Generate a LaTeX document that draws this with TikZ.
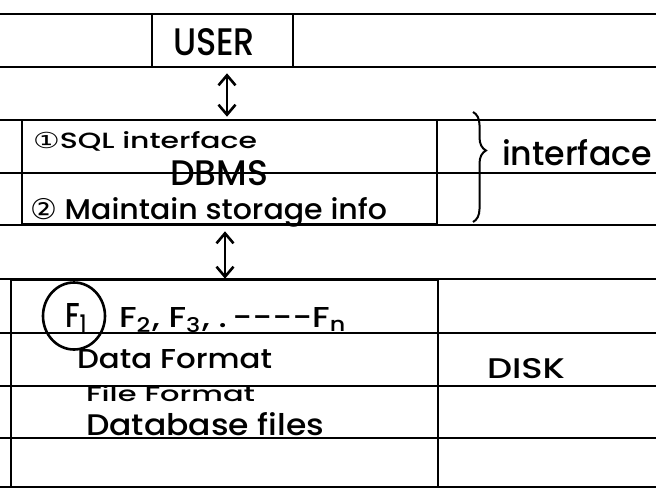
\documentclass[tikz,border=0pt]{standalone}
\usepackage{fontspec}
\setmainfont{Poppins}[UprightFont=* Medium]
\newfontfamily\dejavu{DejaVu Sans}
\usetikzlibrary{arrows.meta,shapes.geometric,decorations.pathreplacing}
\newcommand{\fitt}[3]{\resizebox{#1pt}{#2pt}{#3}}
\newcommand{\circnum}[1]{\smash{\dejavu #1}}
\begin{document}
\begin{tikzpicture}[x=1pt,y=-1pt,
  rule/.style={line width=1.2pt, black},
  penline/.style={line width=2.6pt, black},
  box/.style={draw, penline, rectangle, inner sep=0pt},
  txt/.style={anchor=base west, inner sep=0pt, outer sep=0pt},
  link/.style={penline, {Straight Barb[length=10pt,width=17pt]}-{Straight Barb[length=10pt,width=17pt]}}]
\useasboundingbox[fill=white] (0,0) rectangle (656,491);
% ruled paper lines
\foreach \y in {14,67,120,173,225,279,333,386,438,487}
  \draw[rule] (0,\y) -- (656,\y);
% boxes
\node[box, minimum width=141pt, minimum height=53pt] (user) at (222.5,40.5) {};
\node[box, minimum width=415pt, minimum height=104pt] (dbms) at (229.5,172) {};
\node[box, minimum width=427pt, minimum height=207pt] (disk) at (224.5,383.5) {};
\node[draw, penline, ellipse, minimum width=62pt, minimum height=67pt, inner sep=0pt] (f1) at (74,316) {};
% texts
\node[txt] (usertxt) at (173,55) {\fitt{82}{27}{USER}};
\node[txt] (sql) at (33,148) {\fitt{224}{17}{\circnum{①}SQL interface}};
\node[txt] (dbmslbl) at (170,185) {\fitt{98}{25}{DBMS}};
\node[txt] (maint) at (30,219) {\fitt{357}{22}{\circnum{②} Maintain storage info}};
\node[txt] (intf) at (502,165) {\fitt{150}{26}{interface}};
\node[txt] (f1txt) at (65,327) {\fitt{23}{24}{F\textsubscript{1}}};
\node[txt] (frow) at (119,327) {\fitt{228}{20}{F\textsubscript{2}, F\textsubscript{3}, .\,{-}{-}{-}{-}F\textsubscript{n}}};
\node[txt] (datafmt) at (77,368) {\fitt{195}{19}{Data Format}};
\node[txt] (filefmt) at (86,401) {\fitt{169}{16}{File Format}};
\node[txt] (dbfiles) at (86,435) {\fitt{238}{23}{Database files}};
\node[txt] (disklbl) at (487,378) {\fitt{78}{20}{DISK}};
% connectors
\draw[link, shorten <=5pt, shorten >=2pt] ([xshift=4.5pt]user.south) -- ([xshift=-2.5pt]dbms.north);
\draw[link, shorten <=6pt] ([xshift=-4.5pt]dbms.south) -- ([xshift=0.5pt]disk.north);
% brace
\draw[line width=2pt, decorate, decoration={brace, amplitude=13pt, aspect=0.35}] (473,112) -- (473,222);
\end{tikzpicture}
\end{document}
